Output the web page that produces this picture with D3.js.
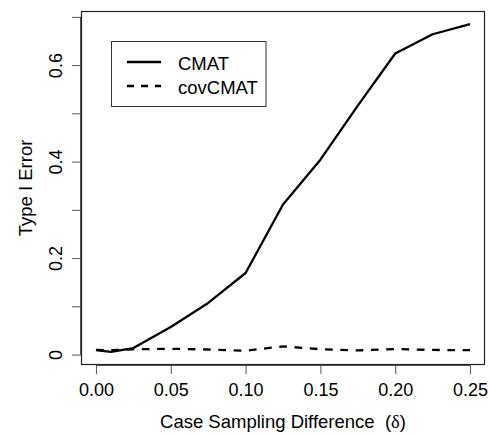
<!DOCTYPE html>
<meta charset="utf-8">
<style>
body { margin: 0; background: #fff; }
text { font-family: "Liberation Sans", Arial, sans-serif; fill: #000; }
</style>
<script src="https://cdn.jsdelivr.net/npm/d3@7"></script>
<body>
<script>

var width = 490,
    height = 435;

// sampling differences (delta)
var delta = [0, 0.01, 0.025, 0.05, 0.075, 0.1, 0.125, 0.15, 0.175, 0.2, 0.225, 0.25];
// type I error of each method
var cmat = [0.009, 0.0055, 0.0135, 0.057, 0.107, 0.169, 0.311, 0.404, 0.516, 0.624, 0.664, 0.685];
var covcmat = [0.0095, 0.009, 0.011, 0.012, 0.0105, 0.008, 0.017, 0.011, 0.0085, 0.0115, 0.0095, 0.009];

var xTicks = [0, 0.05, 0.1, 0.15, 0.2, 0.25];
var yTicks = [0, 0.1, 0.2, 0.3, 0.4, 0.5, 0.6, 0.7];
var yLabelled = [0, 0.2, 0.4, 0.6];

var seriesNames = ["CMAT", "covCMAT"];

// plot region (window.top is taken, so use own names)
var pLeft = 81, pRight = 485, pTop = 11, pBottom = 365;

var svg = d3.select("body")
  .append("svg")
    .attr("width", width)
    .attr("height", height);

// R style: pad the data range by 4%
function padded(ext) {
  var p = (ext[1] - ext[0]) * 0.04;
  return [ext[0] - p, ext[1] + p];
}

var x = d3.scaleLinear()
    .domain(padded(d3.extent(delta)))
    .range([pLeft, pRight]);

var y = d3.scaleLinear()
    .domain(padded(d3.extent(cmat.concat(covcmat))))
    .range([pBottom, pTop]);

// x axis
var xAxis = svg.append("g")
    .attr("transform", "translate(0," + pBottom + ")")
    .call(d3.axisBottom(x)
      .tickValues(xTicks)
      .tickSize(9)
      .tickFormat(d3.format(".2f")));
xAxis.select(".domain").remove();
xAxis.selectAll("line").attr("stroke", "#555");
xAxis.selectAll("text")
    .attr("y", 31)
    .attr("dy", null)
    .attr("fill", "#000")
    .style("font-size", "18px")
    .style("font-family", "'Liberation Sans', Arial, sans-serif");

// the axis line only spans the ticks (as in R)
svg.append("line")
    .attr("x1", x(xTicks[0])).attr("x2", x(xTicks[xTicks.length - 1]))
    .attr("y1", pBottom + 0.5).attr("y2", pBottom + 0.5)
    .attr("stroke", "#555");

// y axis
var yAxis = svg.append("g")
    .attr("transform", "translate(" + pLeft + ",0)")
    .call(d3.axisLeft(y)
      .tickValues(yTicks)
      .tickSize(9)
      .tickFormat(function (d) {
        return yLabelled.indexOf(d) >= 0 ? (d === 0 ? "0" : d3.format(".1f")(d)) : "";
      }));
yAxis.select(".domain").remove();
yAxis.selectAll("line").attr("stroke", "#555");
yAxis.selectAll("text")
    .attr("x", 0)
    .attr("y", -19.5)
    .attr("dy", null)
    .attr("fill", "#000")
    .attr("text-anchor", "middle")
    .attr("transform", "rotate(-90)")
    .style("font-size", "18px")
    .style("font-family", "'Liberation Sans', Arial, sans-serif");

svg.append("line")
    .attr("x1", pLeft - 0.5).attr("x2", pLeft - 0.5)
    .attr("y1", y(yTicks[0])).attr("y2", y(yTicks[yTicks.length - 1]))
    .attr("stroke", "#555");

// plot box
svg.append("rect")
    .attr("x", pLeft + 0.5)
    .attr("y", pTop + 0.5)
    .attr("width", pRight - pLeft - 1)
    .attr("height", pBottom - pTop - 1)
    .attr("fill", "none")
    .attr("stroke", "#222")
    .attr("stroke-width", 1.2);

// lines
var line = d3.line()
    .x(function (d, i) { return x(delta[i]); })
    .y(function (d) { return y(d); });

svg.append("path")
    .datum(cmat)
    .attr("d", line)
    .attr("fill", "none")
    .attr("stroke", "#000")
    .attr("stroke-width", 2.3)
    .attr("stroke-linejoin", "round");

svg.append("path")
    .datum(covcmat)
    .attr("d", line)
    .attr("fill", "none")
    .attr("stroke", "#000")
    .attr("stroke-width", 2.3)
    .attr("stroke-dasharray", "7.7,7.6");

// axis titles
var xTitle = svg.append("text")
    .attr("x", (pLeft + pRight) / 2)
    .attr("y", 428)
    .attr("text-anchor", "middle")
    .style("font-size", "18.5px");
xTitle.append("tspan").text("Case Sampling Difference\u00a0\u00a0(");
xTitle.append("tspan")
    .style("font-family", "'Liberation Serif', serif")
    .text("\u03b4");
xTitle.append("tspan").text(")");

svg.append("text")
    .attr("transform", "translate(31.5," + (pTop + pBottom) / 2 + ") rotate(-90)")
    .attr("text-anchor", "middle")
    .style("font-size", "18.5px")
    .text("Type I Error");

// legend
var legend = svg.append("g");

legend.append("rect")
    .attr("x", 111.5)
    .attr("y", 41.5)
    .attr("width", 154.5)
    .attr("height", 65)
    .attr("fill", "#fff")
    .attr("stroke", "#333");

var dashes = [null, "7,7"];

legend.selectAll(".key")
    .data(seriesNames)
    .enter()
  .append("line")
    .attr("class", "key")
    .attr("x1", 127).attr("x2", 161)
    .attr("y1", function (d, i) { return 62 + i * 24; })
    .attr("y2", function (d, i) { return 62 + i * 24; })
    .attr("stroke", "#000")
    .attr("stroke-width", 2.3)
    .attr("stroke-dasharray", function (d, i) { return dashes[i]; });

legend.selectAll(".label")
    .data(seriesNames)
    .enter()
  .append("text")
    .attr("class", "label")
    .attr("x", 178)
    .attr("y", function (d, i) { return 70 + i * 24; })
    .style("font-size", "18.5px")
    .text(function (d) { return d; });

</script>
</body>
